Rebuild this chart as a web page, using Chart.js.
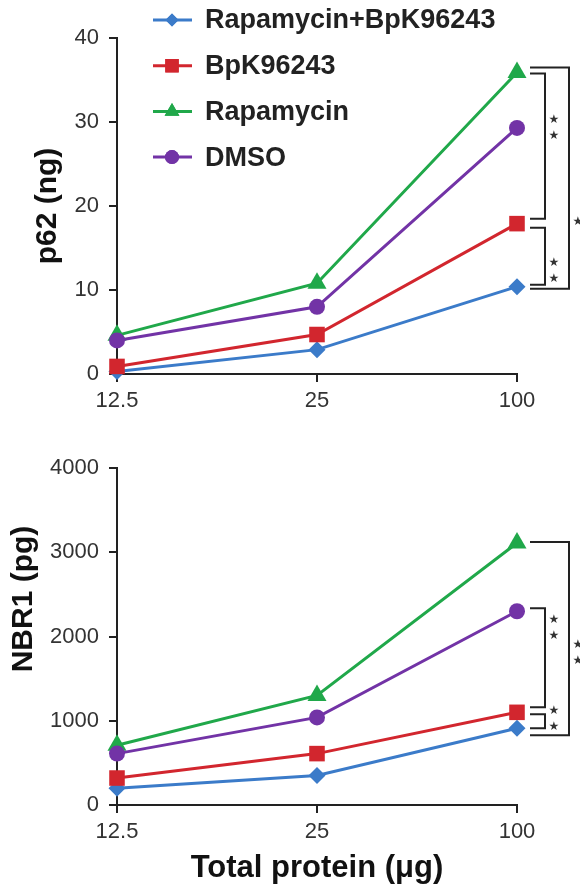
<!DOCTYPE html>
<html>
<head>
<meta charset="utf-8">
<script src="https://cdn.jsdelivr.net/npm/chart.js@4.4.1/dist/chart.umd.min.js"></script>
<style>
  html, body { margin: 0; padding: 0; background: #fff; }
  #wrap { position: relative; width: 580px; height: 889px; }
  canvas { position: absolute; left: 0; }
</style>
</head>
<body>
<div id="wrap">
  <canvas id="p62" width="580" height="430" style="top:0"></canvas>
  <canvas id="nbr1" width="580" height="459" style="top:430px"></canvas>
</div>
<script>
// data
var categories = ["12.5", "25", "100"];
var seriesNames = ["Rapamycin+BpK96243", "BpK96243", "Rapamycin", "DMSO"];

var p62RapaBpk = [0.3, 2.9, 10.4];
var p62Bpk     = [0.9, 4.7, 17.9];
var p62Rapa    = [4.6, 10.8, 35.9];
var p62Dmso    = [4.0, 8.0, 29.3];

var nbrRapaBpk = [200, 350, 910];
var nbrBpk     = [320, 610, 1100];
var nbrRapa    = [710, 1300, 3110];
var nbrDmso    = [610, 1040, 2300];

var p62Ticks = [0, 10, 20, 30, 40];
var nbrTicks = [0, 1000, 2000, 3000, 4000];

var colors  = ["#3b7bc9", "#d2262e", "#20a84a", "#7233a6"];
var markers = ["rectRot", "rect", "triangle", "circle"];
var radii   = [8.5, 11, 11, 8];
var drawOrder = [3, 1, 2, 0];

var FONT = "'Liberation Sans', Arial, Helvetica, sans-serif";
var INK = "#222";

function makeDatasets(lists) {
  return lists.map(function(vals, i) {
    return {
      label: seriesNames[i],
      data: vals,
      borderColor: colors[i],
      backgroundColor: colors[i],
      borderWidth: 3,
      pointStyle: markers[i],
      pointRadius: radii[i],
      pointBorderWidth: 0,
      pointBackgroundColor: colors[i],
      tension: 0,
      clip: false,
      order: drawOrder[i]
    };
  });
}

// significance brackets at the 100 ug column
var bracketPlugin = {
  id: "brackets",
  afterDatasetsDraw: function(chart, args, opts) {
    var ctx = chart.ctx;
    var xs = chart.scales.x, ys = chart.scales.y;
    var last = categories.length - 1;
    var xEnd = xs.getPixelForValue(last);
    ctx.save();
    ctx.strokeStyle = INK;
    ctx.lineWidth = 2;
    (opts.list || []).forEach(function(b) {
      var ds = chart.data.datasets;
      var ya = ys.getPixelForValue(ds[b.a].data[last]) + b.aOff;
      var yb = ys.getPixelForValue(ds[b.b].data[last]) + b.bOff;
      var xv = xEnd + (b.outer ? 52 : 28);
      ctx.beginPath();
      ctx.moveTo(xEnd + 13, ya);
      ctx.lineTo(xv, ya);
      ctx.lineTo(xv, yb);
      ctx.lineTo(xEnd + 13, yb);
      ctx.stroke();
      var sy = ys.getPixelForValue(b.starAt);
      ctx.fillStyle = "#333";
      ctx.font = "12px 'DejaVu Sans'";
      ctx.textAlign = "center";
      ctx.textBaseline = "middle";
      for (var k = 0; k < b.stars; k++) {
        var off = (k - (b.stars - 1) / 2) * 16;
        ctx.fillText("\u2605", xv + 9, sy + off);
      }
    });
    ctx.restore();
  }
};

// legend with line + marker, drawn inside the top panel
function drawMarker(ctx, style, r, x, y) {
  if (Chart.helpers && Chart.helpers.drawPoint) {
    Chart.helpers.drawPoint(ctx, { pointStyle: style, radius: r, rotation: 0, borderWidth: 0 }, x, y);
    ctx.fill();
  }
}

var legendPlugin = {
  id: "lineLegend",
  afterDraw: function(chart, args, opts) {
    if (!opts.show) return;
    var ctx = chart.ctx;
    var lr = [6.5, 9.5, 8.5, 7];
    ctx.save();
    seriesNames.forEach(function(name, i) {
      var y = 20 + i * 45.7;
      ctx.strokeStyle = colors[i];
      ctx.fillStyle = colors[i];
      ctx.lineWidth = 3;
      ctx.beginPath();
      ctx.moveTo(153, y);
      ctx.lineTo(192, y);
      ctx.stroke();
      drawMarker(ctx, markers[i], lr[i], 172, y);
      ctx.fillStyle = "#222";
      ctx.font = "bold 27px " + FONT;
      ctx.textAlign = "left";
      ctx.textBaseline = "middle";
      ctx.fillText(name, 205, y + 1);
    });
    ctx.restore();
  }
};

// rotated y title, placed like in the figure (not always centred on the axis)
var sideTitlePlugin = {
  id: "sideTitle",
  afterDraw: function(chart, args, opts) {
    var ctx = chart.ctx;
    ctx.save();
    ctx.translate(opts.x, opts.y);
    ctx.rotate(-Math.PI / 2);
    ctx.fillStyle = "#111";
    ctx.font = "bold 30px " + FONT;
    ctx.textAlign = "center";
    ctx.textBaseline = "middle";
    ctx.fillText(opts.text, 0, 0);
    ctx.restore();
  }
};

function plainTick(v) { return String(v); }

function makeChart(id, lists, tickVals, yTitle, yTitlePos, xTitle, xHeight, brackets, showLegend) {
  return new Chart(document.getElementById(id), {
    type: "line",
    data: { labels: categories, datasets: makeDatasets(lists) },
    plugins: [bracketPlugin, legendPlugin, sideTitlePlugin],
    options: {
      responsive: false,
      devicePixelRatio: 1,
      animation: false,
      layout: { padding: { top: 38, right: 63, left: 0, bottom: 0 } },
      plugins: {
        legend: { display: false },
        tooltip: { enabled: false },
        brackets: { list: brackets },
        lineLegend: { show: showLegend },
        sideTitle: { text: yTitle, x: yTitlePos[0], y: yTitlePos[1] }
      },
      scales: {
        x: {
          type: "category",
          offset: false,
          grid: { drawOnChartArea: false, drawTicks: true, tickLength: 8, color: INK, lineWidth: 2 },
          border: { color: INK, width: 2 },
          ticks: { color: "#333", font: { family: FONT, size: 22 }, padding: 6, maxRotation: 0 },
          title: { display: !!xTitle, text: xTitle || "", color: "#111",
                   font: { family: FONT, size: 31, weight: "bold" }, padding: { top: 0, bottom: 2 } },
          afterFit: function(s) { s.height = xHeight; }
        },
        y: {
          min: tickVals[0],
          max: tickVals[tickVals.length - 1],
          afterBuildTicks: function(s) { s.ticks = tickVals.map(function(v) { return { value: v }; }); },
          grid: { drawOnChartArea: false, drawTicks: true, tickLength: 8, color: INK, lineWidth: 2 },
          border: { color: INK, width: 2 },
          ticks: { color: "#333", font: { family: FONT, size: 22 }, padding: 10, callback: plainTick },
          afterFit: function(s) { s.width = 117; }
        }
      }
    }
  });
}

makeChart("p62", [p62RapaBpk, p62Bpk, p62Rapa, p62Dmso], p62Ticks, "p62 (ng)", [48, 206], null, 56, [
  { a: 2, b: 1, aOff: 1, bOff: -5, outer: false, stars: 2, starAt: 29.3 },
  { a: 1, b: 0, aOff: 4, bOff: -2, outer: false, stars: 2, starAt: 12.3 },
  { a: 2, b: 0, aOff: -5, bOff: 2, outer: true, stars: 1, starAt: 18.1 }
], true);

makeChart("nbr1", [nbrRapaBpk, nbrBpk, nbrRapa, nbrDmso], nbrTicks, "NBR1 (pg)", [24, 169], "Total protein (\u03bcg)", 84, [
  { a: 2, b: 0, aOff: -1, bOff: 7, outer: true, stars: 2, starAt: 1800 },
  { a: 3, b: 1, aOff: -3, bOff: -5, outer: false, stars: 2, starAt: 2100 },
  { a: 1, b: 0, aOff: 2, bOff: 0, outer: false, stars: 2, starAt: 1024 }
], false);
</script>
</body>
</html>
